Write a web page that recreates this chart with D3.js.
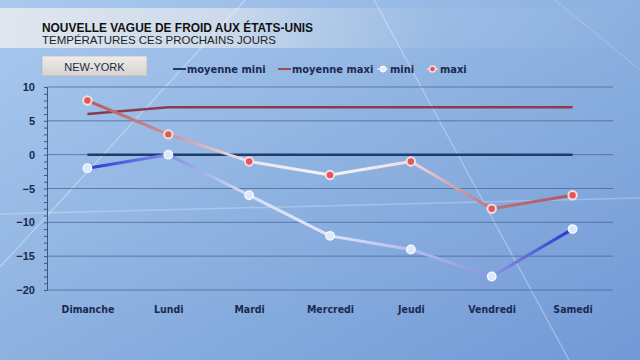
<!DOCTYPE html>
<html><head><meta charset="utf-8">
<script src="https://cdn.jsdelivr.net/npm/d3@7"></script>
<style>html,body{margin:0;padding:0;background:#8fb3e0;}svg{display:block;}</style>
</head><body>
<svg id="c" width="640" height="360"></svg>
<script>
const categories = ["Dimanche","Lundi","Mardi","Mercredi","Jeudi","Vendredi","Samedi"];
const moyenneMini = [0,0,0,0,0,0,0];
const moyenneMaxi = [6,7,7,7,7,7,7];
const mini = [-2,0,-6,-12,-14,-18,-11];
const maxi = [8,3,-1,-3,-1,-8,-6];
const yTicks = [10,5,0,-5,-10,-15,-20];
const title = "NOUVELLE VAGUE DE FROID AUX ÉTATS-UNIS";
const subtitle = "TEMPÉRATURES CES PROCHAINS JOURS";
const city = "NEW-YORK";

const svg = d3.select("#c");
const defs = svg.append("defs");

const bg = defs.append("linearGradient").attr("id","bg").attr("x1","0").attr("y1","0").attr("x2","1").attr("y2","1");
bg.append("stop").attr("offset","0").attr("stop-color","#a9c9ee");
bg.append("stop").attr("offset","0.5").attr("stop-color","#8db1e0");
bg.append("stop").attr("offset","1").attr("stop-color","#7199d6");
svg.append("rect").attr("width",640).attr("height",360).attr("fill","url(#bg)");

const ban = defs.append("linearGradient").attr("id","ban").attr("x1","0").attr("x2","1");
ban.append("stop").attr("offset","0").attr("stop-color","#e4e8ee").attr("stop-opacity",0.95);
ban.append("stop").attr("offset","0.35").attr("stop-color","#d4dfec").attr("stop-opacity",0.85);
ban.append("stop").attr("offset","0.7").attr("stop-color","#a8c4e6").attr("stop-opacity",0.3);
ban.append("stop").attr("offset","1").attr("stop-color","#a8c4e6").attr("stop-opacity",0);
svg.append("rect").attr("x",0).attr("y",8).attr("width",640).attr("height",40).attr("fill","url(#ban)");

const streaks = svg.append("g").attr("stroke","#ffffff").attr("fill","none");
streaks.append("line").attr("x1",0).attr("y1",267).attr("x2",245).attr("y2",0).attr("stroke-opacity",0.35).attr("stroke-width",1.2);
streaks.append("line").attr("x1",374).attr("y1",0).attr("x2",569).attr("y2",360).attr("stroke-opacity",0.35).attr("stroke-width",1.2);
streaks.append("line").attr("x1",0).attr("y1",214).attr("x2",640).attr("y2",198).attr("stroke-opacity",0.25).attr("stroke-width",1.5);
streaks.append("line").attr("x1",555).attr("y1",0).attr("x2",640).attr("y2",70).attr("stroke-opacity",0.25).attr("stroke-width",1);

svg.append("text").attr("x",42).attr("y",32).attr("font-family","Liberation Sans, Arial, sans-serif")
  .attr("font-weight","bold").attr("font-size",12).attr("fill","#111").attr("textLength",271).attr("lengthAdjust","spacingAndGlyphs").text(title);
svg.append("text").attr("x",42).attr("y",44).attr("font-family","Liberation Sans, Arial, sans-serif")
  .attr("font-size",11).attr("fill","#222").attr("textLength",234).attr("lengthAdjust","spacingAndGlyphs").text(subtitle);

const cb = defs.append("linearGradient").attr("id","cb").attr("x1","0").attr("y1","0").attr("x2","0").attr("y2","1");
cb.append("stop").attr("offset","0").attr("stop-color","#eeecea");
cb.append("stop").attr("offset","1").attr("stop-color","#d6d2cf");
svg.append("rect").attr("x",42).attr("y",56).attr("width",105).attr("height",20).attr("fill","url(#cb)").attr("stroke","#b8b8c0").attr("stroke-width",0.8);
svg.append("text").attr("x",94.5).attr("y",70.5).attr("text-anchor","middle").attr("font-family","Liberation Sans, Arial, sans-serif")
  .attr("font-size",11).attr("fill","#1c2a48").text(city);

const x = d3.scalePoint().domain(categories).range([47,613]).padding(0.5);
const y = d3.scaleLinear().domain([-20,10]).range([290,87]);

const grid = svg.append("g");
grid.selectAll("line").data(yTicks).join("line")
  .attr("x1",47).attr("x2",613).attr("y1",d=>y(d)).attr("y2",d=>y(d))
  .attr("stroke","#4d6c9a").attr("stroke-width",1).attr("stroke-opacity",0.8);

const yAxis = d3.axisLeft(y).tickValues(yTicks).tickSize(0).tickPadding(12);
const ya = svg.append("g").attr("transform","translate(47,0)").call(yAxis);
ya.select(".domain").attr("stroke","#3a5688").attr("stroke-width",1);
ya.selectAll("text").attr("font-family","Liberation Sans, Arial, sans-serif").attr("font-weight","bold").attr("font-size",11).attr("fill","#1a2a4a");
const minor = d3.range(-20,11,1);
svg.append("g").attr("transform","translate(47,0)").call(d3.axisLeft(y).tickValues(minor).tickSize(3).tickFormat(""))
  .call(g=>g.select(".domain").remove()).selectAll("line").attr("stroke","#3a5688");

const xAxis = d3.axisBottom(x).tickSize(0).tickPadding(16);
const xa = svg.append("g").attr("transform","translate(0,290)").call(xAxis);
xa.select(".domain").remove();
xa.selectAll("text").attr("font-family","DejaVu Sans Condensed, Liberation Sans, sans-serif").attr("font-weight","bold").attr("font-size",10.5).attr("fill","#1a2a50");

const line = d3.line().x((d,i)=>x(categories[i])).y(d=>y(d));

svg.append("path").attr("d",line(moyenneMaxi)).attr("fill","none").attr("stroke","#8a3c4e").attr("stroke-width",2.5);
svg.append("path").attr("d",line(moyenneMini)).attr("fill","none").attr("stroke","#1c3d6e").attr("stroke-width",2.5);

function grad(id, stops){
  const g = defs.append("linearGradient").attr("id",id).attr("gradientUnits","userSpaceOnUse")
    .attr("x1",x(categories[0])).attr("x2",x(categories[categories.length-1])).attr("y1",0).attr("y2",0);
  stops.forEach((c,i)=>g.append("stop").attr("offset",i/(stops.length-1)).attr("stop-color",c));
}
grad("gMini",["#2a3ad6","#7f8ee8","#d8e0f4","#dfe4f6","#b4bceb","#8d94e2","#2536d0"]);
grad("gMaxi",["#b8585c","#c89298","#ece6ee","#f4f4f8","#ecdde4","#bb7078","#b05a62"]);

svg.append("path").attr("d",line(maxi)).attr("fill","none").attr("stroke","url(#gMaxi)").attr("stroke-width",3).attr("stroke-linejoin","round");
svg.append("path").attr("d",line(mini)).attr("fill","none").attr("stroke","url(#gMini)").attr("stroke-width",3).attr("stroke-linejoin","round");

const mg = svg.append("g");
mg.selectAll("circle.mi").data(mini).join("circle").attr("class","mi")
  .attr("cx",(d,i)=>x(categories[i])).attr("cy",d=>y(d)).attr("r",4.2)
  .attr("fill","#dce8fb").attr("stroke","#f4f8ff").attr("stroke-width",1.5);
mg.selectAll("circle.ma").data(maxi).join("circle").attr("class","ma")
  .attr("cx",(d,i)=>x(categories[i])).attr("cy",d=>y(d)).attr("r",4.2)
  .attr("fill","#e05858").attr("stroke","#f3dde0").attr("stroke-width",2);

const lg = svg.append("g").attr("font-family","DejaVu Sans Condensed, Liberation Sans, sans-serif").attr("font-weight","bold").attr("font-size",11).attr("fill","#1a2a50");
lg.append("line").attr("x1",173).attr("x2",186).attr("y1",69).attr("y2",69).attr("stroke","#1c3d6e").attr("stroke-width",2);
lg.append("text").attr("x",187).attr("y",73).text("moyenne mini");
lg.append("line").attr("x1",278).attr("x2",291).attr("y1",69).attr("y2",69).attr("stroke","#9a4a58").attr("stroke-width",2);
lg.append("text").attr("x",292).attr("y",73).text("moyenne maxi");
lg.append("line").attr("x1",377).attr("x2",388).attr("y1",69).attr("y2",69).attr("stroke","#c8d8f4").attr("stroke-width",2);
lg.append("circle").attr("cx",383).attr("cy",69).attr("r",3).attr("fill","#e6eefc").attr("stroke","#fff");
lg.append("text").attr("x",390).attr("y",73).text("mini");
lg.append("line").attr("x1",427).attr("x2",438).attr("y1",69).attr("y2",69).attr("stroke","#e8c8d0").attr("stroke-width",2);
lg.append("circle").attr("cx",432.5).attr("cy",69).attr("r",3).attr("fill","#e05858").attr("stroke","#f4dce0").attr("stroke-width",1.5);
lg.append("text").attr("x",440).attr("y",73).text("maxi");
</script>
</body></html>
